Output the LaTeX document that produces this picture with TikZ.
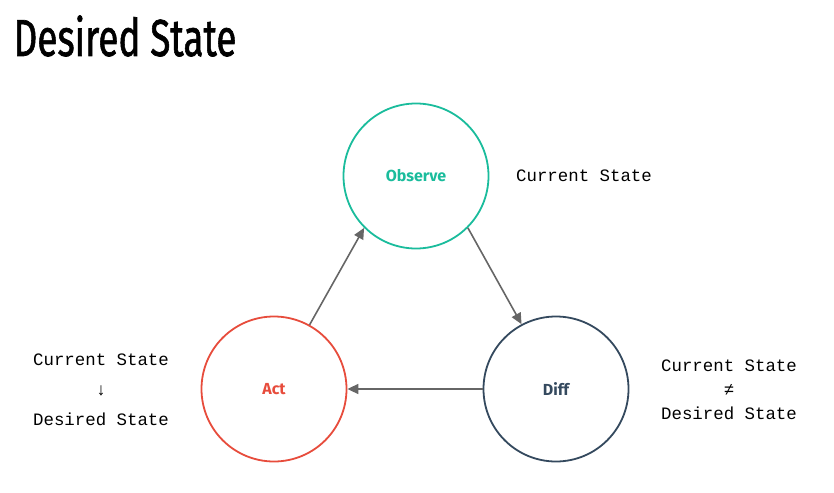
\documentclass[tikz,border=0pt]{standalone}
\usepackage{fontspec}
\setmainfont{Fira Sans}
\setmonofont{Liberation Mono}
\newfontfamily\titlefont[FakeBold=1.4]{Fira Sans}
\usetikzlibrary{arrows.meta}
\definecolor{obscol}{HTML}{1ABC9C}
\definecolor{actcol}{HTML}{E74C3C}
\definecolor{diffcol}{HTML}{34495E}
\definecolor{arrowgray}{HTML}{666666}

\begin{document}
\begin{tikzpicture}[x=1pt,y=-1pt,
  stage/.style={circle,draw,line width=1.8pt,minimum size=145pt,inner sep=0pt,
    font=\bfseries\fontsize{16}{18}\selectfont},
  flow/.style={draw=arrowgray,line width=1.6pt,-{Triangle[length=11pt,width=10pt]}},
  note/.style={font=\ttfamily\fontsize{17.4}{20}\selectfont,align=center}]
\useasboundingbox (0,0) rectangle (834,492);
% title
\node (title) at (125,36) {\titlefont\fontsize{52}{56}\selectfont\scalebox{0.71}[1]{Desired State}};
% the loop
\node[stage,draw=obscol,text=obscol] (obs) at (416,176) {Observe};
\node[stage,draw=actcol,text=actcol] (act) at (274,389) {Act};
\node[stage,draw=diffcol,text=diffcol] (diff) at (556,389) {Diff};
\draw[flow] (act.61) -- (obs.-135);
\draw[flow] (obs.-45) -- (diff.118);
\draw[flow] (diff.west) -- (act.east);
% states
\node[note] (now) at (584,176) {Current State};
\node[note] (change) at (101,390) {Current State\\[10pt]↓\\[10pt]Desired State};
\node[note] (gap) at (729,390) {Current State\\[4pt]≠\\[4pt]Desired State};
\end{tikzpicture}
\end{document}
